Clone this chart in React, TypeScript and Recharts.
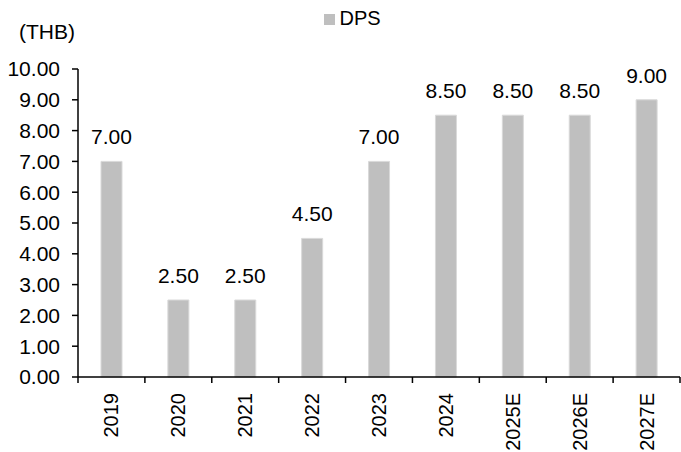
import React from "react";
import { BarChart, Bar, XAxis, YAxis, LabelList, Legend } from "recharts";

const years = ["2019", "2020", "2021", "2022", "2023", "2024", "2025E", "2026E", "2027E"];
const dpsValues = [7.0, 2.5, 2.5, 4.5, 7.0, 8.5, 8.5, 8.5, 9.0];
const yTicks = [0, 1, 2, 3, 4, 5, 6, 7, 8, 9, 10];
const seriesName = "DPS";
const unitLabel = "(THB)";

const data = years.map((y, i) => ({ year: y, dps: dpsValues[i] }));

const W = 681;
const H = 452;
const FONT = "'Liberation Sans', Arial, sans-serif";
const FS = 21;
const PLOT_LEFT = 78;
const PLOT_RIGHT = 680;
const BAND = (PLOT_RIGHT - PLOT_LEFT) / years.length;

const XTick = (props: any) => {
  const { x, payload, index } = props;
  const isLast = index === years.length - 1;
  return (
    <g>
      <line x1={x - BAND / 2} x2={x - BAND / 2} y1={377} y2={383} stroke="#000" strokeWidth={1.5} />
      {isLast && (
        <line x1={x + BAND / 2} x2={x + BAND / 2} y1={377} y2={383} stroke="#000" strokeWidth={1.5} />
      )}
      <text
        x={x}
        y={393}
        transform={`rotate(-90, ${x}, 393)`}
        textAnchor="end"
        dominantBaseline="central"
        fontSize={FS - 1}
        fontFamily={FONT}
        fill="#000"
      >
        {payload.value}
      </text>
    </g>
  );
};

export default function App() {
  return (
    <div style={{ position: "fixed", left: 0, top: 0, width: W, height: H, background: "#fff" }}>
      <BarChart
        width={W}
        height={H}
        data={data}
        margin={{ top: 69, right: 1, left: 0, bottom: 0 }}
      >
        <XAxis
          dataKey="year"
          height={75}
          interval={0}
          tickLine={false}
          axisLine={{ stroke: "#000", strokeWidth: 1.5 }}
          tick={<XTick />}
        />
        <YAxis
          width={78}
          domain={[0, 10]}
          ticks={yTicks}
          interval={0}
          tickFormatter={(v: number) => v.toFixed(2)}
          tick={{ fontSize: FS, fontFamily: FONT, fill: "#000" }}
          tickSize={6}
          tickMargin={12}
          tickLine={{ stroke: "#000", strokeWidth: 1.5 }}
          axisLine={{ stroke: "#000", strokeWidth: 1.5 }}
          label={{
            content: () => (
              <text x={47} y={31} textAnchor="middle" dominantBaseline="central" fontSize={FS} fontFamily={FONT} fill="#000">
                {unitLabel}
              </text>
            ),
          }}
        />
        <Legend
          verticalAlign="middle"
          align="center"
          iconType="square"
          iconSize={11}
          wrapperStyle={{ top: 7, left: 17, width: W, fontFamily: FONT, fontSize: FS - 1, lineHeight: "22px" }}
          formatter={(v: string) => <span style={{ color: "#000" }}>{v}</span>}
        />
        <Bar dataKey="dps" name={seriesName} fill="#BFBFBF" stroke="#D9D9D9" strokeWidth={1} barSize={21} isAnimationActive={false}>
          <LabelList
            dataKey="dps"
            position="top"
            offset={17}
            formatter={(v: number) => v.toFixed(2)}
            style={{ fontSize: FS, fontFamily: FONT, fill: "#000" }}
          />
        </Bar>
      </BarChart>
    </div>
  );
}
